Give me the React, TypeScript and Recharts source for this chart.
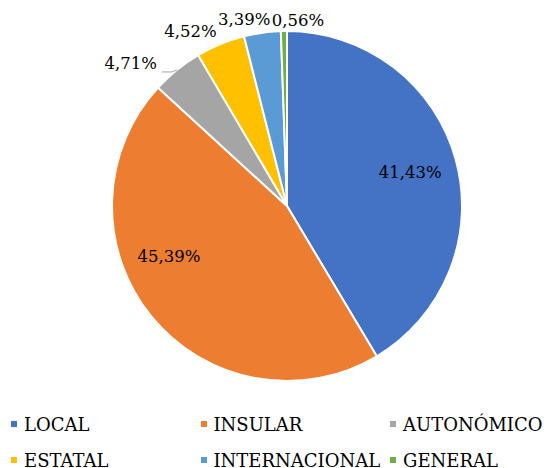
import { Cell, Legend, Pie, PieChart } from 'recharts';

const categories = ['LOCAL', 'INSULAR', 'AUTONÓMICO', 'ESTATAL', 'INTERNACIONAL', 'GENERAL'];
const shares = [41.43, 45.39, 4.71, 4.52, 3.39, 0.56];
const colors = ['#4472C4', '#ED7D31', '#A5A5A5', '#FFC000', '#5B9BD5', '#70AD47'];

const FONT = '"DejaVu Serif", serif';
const RADIAN = Math.PI / 180;

const data = categories.map((name, i) => ({ name, value: shares[i] }));

// label placement tweaks (Excel "best fit" look)
const labelNudge: { inside: boolean; dx: number; dy: number; anchor?: 'start' | 'middle' | 'end' }[] = [
  { inside: true, dx: 0, dy: 0 },
  { inside: true, dx: -19, dy: -30 },
  { inside: false, dx: -20, dy: -6, anchor: 'end' },
  { inside: false, dx: -30, dy: -13 },
  { inside: false, dx: -18, dy: -13 },
  { inside: false, dx: 14, dy: -11 },
];

const fmt = (v: number) => v.toFixed(2).replace('.', ',') + '%';

interface LabelProps {
  cx: number;
  cy: number;
  midAngle: number;
  outerRadius: number;
  index: number;
  value: number;
}

function SliceLabel({ cx, cy, midAngle, outerRadius, index, value }: LabelProps) {
  const n = labelNudge[index];
  const r = n.inside ? outerRadius * 0.73 : outerRadius;
  const px = cx + r * Math.cos(-midAngle * RADIAN);
  const py = cy + r * Math.sin(-midAngle * RADIAN);
  const tx = px + n.dx;
  const ty = py + n.dy;
  return (
    <g>
      {index === 2 && (
        <polyline
          points={`${px},${py} ${px - 5},${py + 2} ${px - 15},${py + 2}`}
          fill="none"
          stroke="#A5A5A5"
          strokeWidth={1}
        />
      )}
      <text
        x={tx}
        y={ty}
        textAnchor={n.anchor ?? 'middle'}
        dominantBaseline="central"
        fill="#000"
        style={{ fontFamily: FONT, fontSize: 16.5 }}
      >
        {fmt(value)}
      </text>
    </g>
  );
}

function LegendBox() {
  return (
    <div style={{ position: 'relative', width: 544, height: 64 }}>
      {categories.map((name, i) => {
        const col = i % 3;
        const row = Math.floor(i / 3);
        return (
          <div
            key={name}
            style={{
              position: 'absolute',
              left: 11 + col * 189.5,
              top: row * 36,
              display: 'flex',
              alignItems: 'center',
              height: 20,
              fontFamily: FONT,
              fontSize: 18,
              color: '#000',
              whiteSpace: 'nowrap',
            }}
          >
            <span style={{ width: 6, height: 6, background: colors[i], marginRight: 7, display: 'inline-block' }} />
            {name}
          </div>
        );
      })}
    </div>
  );
}

export default function App() {
  return (
    <div style={{ position: 'absolute', left: 0, top: 0, width: 544, height: 468, background: '#fff' }}>
      <PieChart width={544} height={468} margin={{ top: 0, right: 0, bottom: 0, left: 0 }}>
        <Pie
          data={data}
          dataKey="value"
          nameKey="name"
          cx={287}
          cy={206}
          outerRadius={175}
          startAngle={90}
          endAngle={-270}
          stroke="#fff"
          strokeWidth={2}
          labelLine={false}
          label={(p: any) => <SliceLabel {...p} />}
          isAnimationActive={false}
        >
          {data.map((d, i) => (
            <Cell key={d.name} fill={colors[i]} />
          ))}
        </Pie>
        <Legend
          content={() => <LegendBox />}
          wrapperStyle={{ position: 'absolute', left: 0, top: 414, width: 544, height: 64 }}
        />
      </PieChart>
    </div>
  );
}
